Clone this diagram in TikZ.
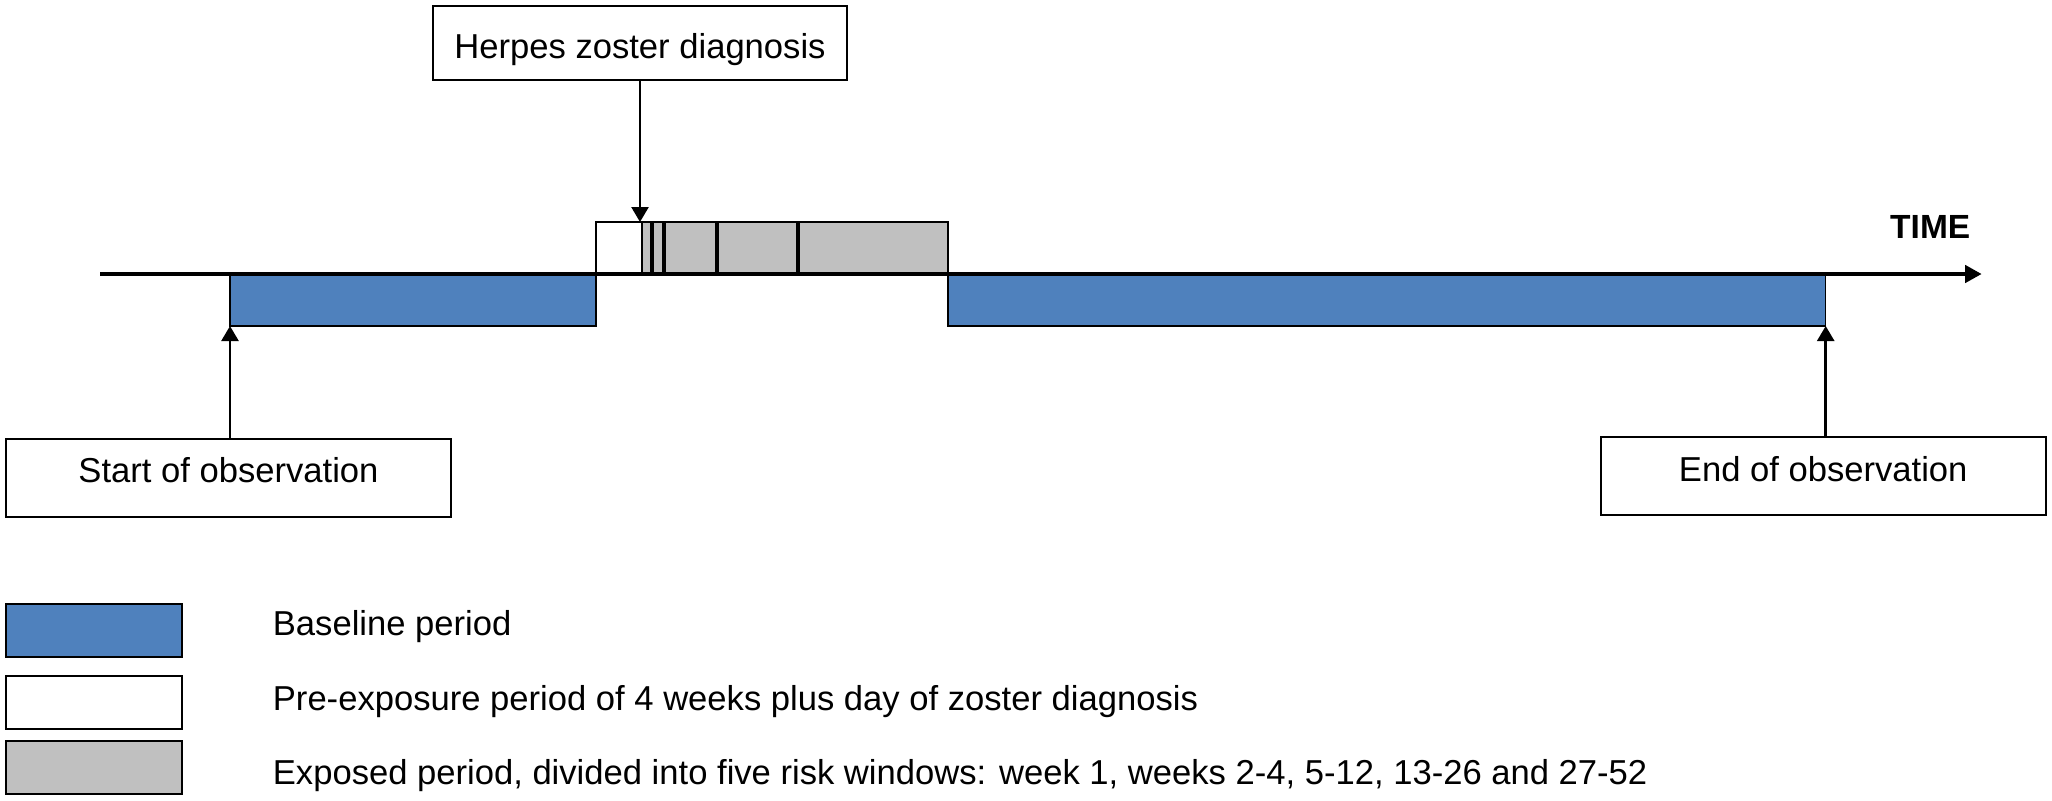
\documentclass[tikz,border=0pt]{standalone}
\usepackage{fontspec}
\setmainfont{Liberation Sans}
\usetikzlibrary{arrows.meta}
\definecolor{basblue}{HTML}{4F81BD}
\definecolor{expgray}{HTML}{C0C0C0}
\begin{document}
\begin{tikzpicture}[x=1pt,y=-1pt,
  bar/.style={draw=black, line width=1.5pt, inner sep=0pt, outer sep=0pt, anchor=north west},
  legbox/.style={draw=black, line width=2pt, inner sep=0pt, outer sep=0pt, anchor=north west, minimum width=176pt, minimum height=52.5pt},
  lbox/.style={draw=black, line width=2pt, inner sep=0pt, outer sep=0pt, fill=white, font=\fontsize{34.6}{40}\selectfont},
  txt/.style={inner sep=0pt, anchor=base west, font=\fontsize{34.6}{40}\selectfont},
  arr/.style={line width=2.5pt, -{Triangle[length=15pt,width=17pt]}},
  riskline/.style={line width=4pt}]
\useasboundingbox (0,0) rectangle (2052,800);
% bars
\node[bar, fill=basblue, minimum width=366pt, minimum height=52pt] (blueL) at (230,274) {};
\node[bar, fill=white, minimum width=46pt, minimum height=52pt] (preexp) at (596,222) {};
\node[bar, fill=expgray, minimum width=306pt, minimum height=52pt] (exposed) at (642,222) {};
\node[bar, fill=basblue, minimum width=877.7pt, minimum height=52pt] (blueR) at (948,274) {};
% risk window borders
\draw[riskline] (651.7,222) -- (651.7,274);
\draw[riskline] (664.3,222) -- (664.3,274);
\draw[riskline] (716.7,222) -- (716.7,274);
\draw[riskline] (797.7,222) -- (797.7,274);
% axis
\coordinate (axL) at (100,274);
\coordinate (axR) at (1981.7,274);
\draw[line width=4pt, -{Triangle[length=16.5pt,width=17pt]}] (axL) -- (axR);
\node[anchor=base west, inner sep=0pt, font=\bfseries\fontsize{33.5}{38}\selectfont] (time) at (1890,238) {TIME};
% label boxes
\node[lbox, minimum width=414pt, minimum height=74pt, text height=30.6pt, text depth=0pt] (herpes) at (640,43) {Herpes zoster diagnosis};
\node[lbox, minimum width=445pt, minimum height=78pt, text height=25pt, text depth=15.6pt] (start) at (228.5,478) {Start of observation};
\node[lbox, minimum width=445pt, minimum height=78pt, text height=25pt, text depth=13.6pt] (end) at (1823.2,476) {End of observation};
% arrows
\draw[arr] (herpes.south) -- (herpes.south |- exposed.north);
\draw[arr] (start.north -| blueL.south west) -- (blueL.south west);
\draw[arr] (end.north -| blueR.south east) -- (blueR.south east);
% legend
\node[legbox, fill=basblue] (lg1) at (5.7,604) {};
\node[legbox, fill=white] (lg2) at (5.7,676) {};
\node[legbox, fill=expgray] (lg3) at (5.7,741) {};
\node[txt] (lt1) at (272.7,635.5) {Baseline period};
\node[txt] (lt2) at (272.7,710.5) {Pre-exposure period of 4 weeks plus day of zoster diagnosis};
\node[txt] (lt3) at (272.7,784.5) {Exposed period, divided into five risk windows: week 1, weeks 2-4, 5-12, 13-26 and 27-52};
\end{tikzpicture}
\end{document}
